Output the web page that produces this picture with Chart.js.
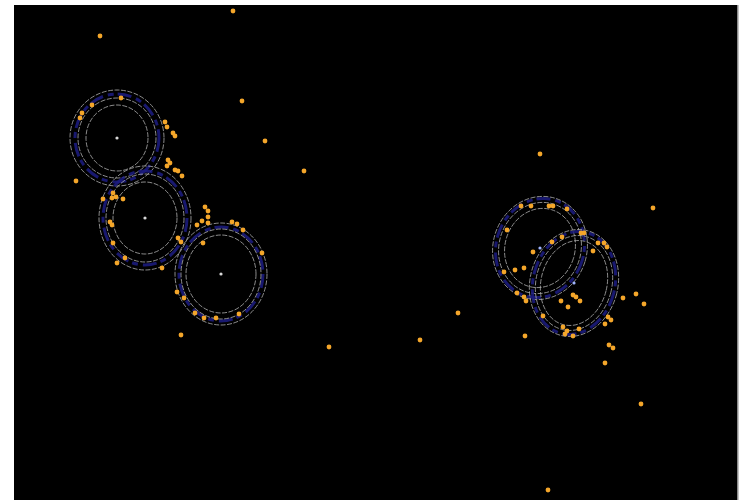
<!DOCTYPE html>
<html>
<head>
<meta charset="utf-8">
<script src="https://cdn.jsdelivr.net/npm/chart.js@4"></script>
<style>
  html, body { margin: 0; padding: 0; background: #ffffff; }
  #wrap { width: 741px; height: 504px; }
</style>
</head>
<body>
<div id="wrap"><canvas id="c" width="741" height="504"></canvas></div>
<script>
// Detected spots (x, y in field units)
const spotX = [
  86, 219, 228, 251, 290, 62, 526, 639, 444, 315, 406, 167, 627, 534, 591, 595, 599, 622, 630, 609,
  107, 78, 68, 66, 151, 153, 159, 161, 154, 156, 153, 161, 164, 168, 99, 102, 98, 109, 89,
  191, 194, 194, 194, 188, 183, 96, 98, 164, 167, 99, 218, 223, 229, 189, 103, 111, 148, 248,
  163, 170, 181, 190, 202, 225,
  507, 517, 535, 539, 553, 493, 567, 570, 584, 590, 593, 538, 548, 519, 579, 490, 501, 510,
  503, 510, 512, 559, 562, 547, 566, 554, 529, 594, 597, 591, 511, 549, 553, 551, 559, 565
];
const spotY = [
  464, 489, 399, 359, 329, 319, 346, 292, 187, 153, 160, 165, 96, 10, 137, 155, 152, 206, 196, 202,
  402, 395, 387, 382, 378, 373, 367, 364, 340, 337, 334, 330, 329, 324, 307, 303, 302, 301, 301,
  293, 289, 283, 277, 279, 275, 278, 275, 262, 258, 257, 278, 276, 270, 257, 237, 242, 232, 247,
  208, 202, 187, 182, 182, 186,
  294, 294, 294, 294, 291, 270, 267, 267, 257, 257, 253, 258, 263, 248, 249, 228, 230, 232,
  207, 203, 199, 205, 203, 199, 199, 193, 184, 183, 180, 176, 164, 173, 169, 166, 164, 171
];

// Fitted cluster centres
const centerX = [103, 131, 207, 526, 560];
const centerY = [362, 282, 226, 252, 217];

// Fitted ring radii per cluster (field units) and ellipse tilt (degrees)
const outerRx = [47, 46, 46, 47, 44];
const outerRy = [48, 52, 51, 52, 54];
const midRx   = [39, 39, 40, 41, 38];
const midRy   = [40, 44, 45, 46, 48];
const blueRx  = [42, 42, 42, 44, 41];
const blueRy  = [44, 47, 47, 50, 52];
const innerRx = [31, 32, 35, 35, 33];
const innerRy = [33, 36, 39, 40, 43];
const tiltDeg = [0, 0, 0, 17, 14];

const spots = spotX.map((x, i) => ({ x, y: spotY[i] }));
const centers = centerX.map((x, i) => ({ x, y: centerY[i] }));
const centerColors = ['#d8d8d8', '#d8d8d8', '#d8d8d8', '#9fb4ff', '#9fb4ff'];

// Black field behind the plot
const fieldBackground = {
  id: 'fieldBackground',
  beforeDraw(chart) {
    const { ctx, chartArea: a } = chart;
    ctx.save();
    ctx.fillStyle = '#000000';
    ctx.fillRect(a.left, a.top, a.right - a.left, a.bottom - a.top);
    ctx.strokeStyle = '#8a8a8a';
    ctx.lineWidth = 1.5;
    ctx.beginPath();
    ctx.moveTo(a.right + 0.75, a.top);
    ctx.lineTo(a.right + 0.75, a.bottom);
    ctx.stroke();
    ctx.restore();
  }
};

// Cluster rings, drawn as ellipses through the chart scales
const clusterRings = {
  id: 'clusterRings',
  beforeDatasetsDraw(chart) {
    const { ctx, scales: { x, y } } = chart;
    const ell = (i, rx, ry) => {
      const cx = x.getPixelForValue(centerX[i]);
      const cy = y.getPixelForValue(centerY[i]);
      const px = Math.abs(x.getPixelForValue(centerX[i] + rx) - cx);
      const py = Math.abs(y.getPixelForValue(centerY[i] + ry) - cy);
      ctx.beginPath();
      ctx.ellipse(cx, cy, px, py, tiltDeg[i] * Math.PI / 180, 0, Math.PI * 2);
      ctx.stroke();
    };
    ctx.save();
    ctx.filter = 'blur(0.5px)';
    centerX.forEach((_, i) => {
      ctx.strokeStyle = 'rgba(28, 28, 130, 0.85)';
      ctx.lineWidth = 3;
      ctx.setLineDash([14, 5, 6, 4]);
      ell(i, blueRx[i], blueRy[i]);
      ctx.strokeStyle = 'rgba(175, 175, 175, 0.8)';
      ctx.lineWidth = 1;
      ctx.setLineDash([5, 1.5]);
      ell(i, outerRx[i], outerRy[i]);
      ell(i, midRx[i], midRy[i]);
      ell(i, innerRx[i], innerRy[i]);
      ctx.setLineDash([]);
    });
    ctx.restore();
  }
};

new Chart(document.getElementById('c'), {
  type: 'scatter',
  data: {
    datasets: [
      {
        label: 'spots',
        data: spots,
        backgroundColor: '#f4a62a',
        borderWidth: 0,
        pointRadius: 2.4,
        pointHoverRadius: 2.4
      },
      {
        label: 'centres',
        data: centers,
        backgroundColor: centerColors,
        borderWidth: 0,
        pointRadius: 1.6,
        pointHoverRadius: 1.6
      }
    ]
  },
  options: {
    responsive: false,
    animation: false,
    events: [],
    layout: { padding: { left: 14, top: 5, right: 4, bottom: 4 } },
    scales: {
      x: { type: 'linear', min: 0, max: 723, display: false },
      y: { type: 'linear', min: 0, max: 495, display: false }
    },
    plugins: {
      legend: { display: false },
      tooltip: { enabled: false }
    }
  },
  plugins: [fieldBackground, clusterRings]
});
</script>
</body>
</html>
